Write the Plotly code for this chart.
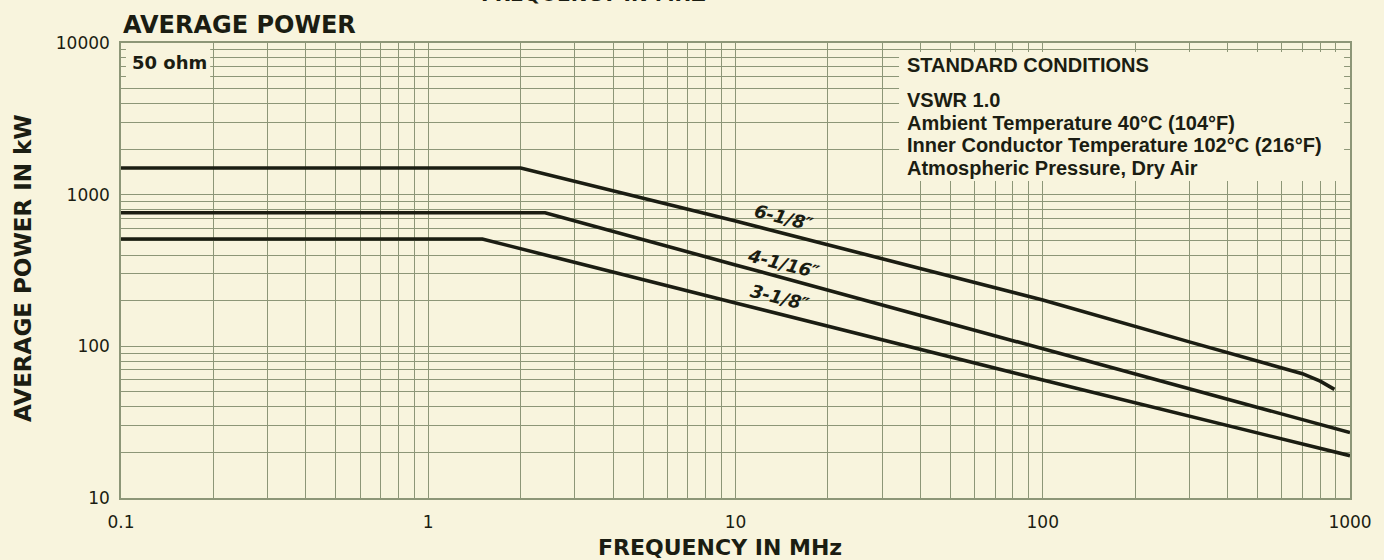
import plotly.graph_objects as go

# ---- data ----
freq_618 = [0.1, 2.0, 10, 100, 300, 700, 800, 890]
power_618 = [1500, 1500, 670, 202, 107, 66, 59, 52]

freq_4116 = [0.1, 2.4, 10, 100, 1000]
power_4116 = [760, 760, 344, 96, 27]

freq_318 = [0.1, 1.5, 10, 100, 1000]
power_318 = [510, 510, 193, 60, 19]

x_ticks = [0.1, 1, 10, 100, 1000]
x_tick_text = ['0.1', '1', '10', '100', '1000']
y_ticks = [10, 100, 1000, 10000]
y_tick_text = ['10', '100', '1000', '10000']

series_names = ['6-1/8″', '4-1/16″', '3-1/8″']
conditions = ['VSWR 1.0',
              'Ambient Temperature 40°C (104°F)',
              'Inner Conductor Temperature 102°C (216°F)',
              'Atmospheric Pressure, Dry Air']

# ---- styling ----
BG = '#f8f4dd'
GRID = '#8d9677'
INK = '#1b1d12'
W, H = 1384, 560
L, R, T, B = 121, 23, 43, 62
PW, PH = W - L - R, H - T - B


def px_x(px):
    return (px - L) / PW


def px_y(py):
    return (H - B - py) / PH


fig = go.Figure()
for fx, fy, nm in [(freq_618, power_618, series_names[0]),
                   (freq_4116, power_4116, series_names[1]),
                   (freq_318, power_318, series_names[2])]:
    fig.add_trace(go.Scatter(x=fx, y=fy, mode='lines', name=nm,
                             line=dict(color=INK, width=3.6),
                             showlegend=False))

axis_common = dict(
    type='log', showgrid=True, gridcolor=GRID, gridwidth=1,
    showline=True, linecolor=GRID, linewidth=1.5, mirror=True,
    ticks='', tickmode='array', zeroline=False,
    tickfont=dict(family='DejaVu Sans', size=17, color=INK),
    minor=dict(dtick='D1', showgrid=True, gridcolor=GRID, gridwidth=1, ticks=''),
)

fig.update_xaxes(range=[-1, 3], tickvals=x_ticks, ticktext=x_tick_text,
                 ticklabelstandoff=8, **axis_common)
fig.update_yaxes(range=[1, 4], tickvals=y_ticks, ticktext=y_tick_text,
                 ticklabelstandoff=6, **axis_common)

shapes = [
    # STANDARD CONDITIONS box (covers grid)
    dict(type='rect', xref='paper', yref='paper',
         x0=px_x(906), x1=px_x(1355), y0=px_y(181), y1=px_y(52),
         fillcolor=BG, line=dict(width=0), layer='above'),
    # 50 ohm box
    dict(type='rect', xref='paper', yref='paper',
         x0=px_x(126), x1=px_x(211), y0=px_y(77), y1=px_y(47),
         fillcolor=BG, line=dict(width=0), layer='above'),
]

ann = []
title_font = dict(family='DejaVu Sans', size=24, color=INK, weight='bold')
ann.append(dict(text='AVERAGE POWER', xref='paper', yref='paper',
                x=px_x(121), y=px_y(25), xanchor='left', yanchor='middle',
                showarrow=False, font=title_font))
ann.append(dict(text='AVERAGE POWER IN kW', xref='paper', yref='paper',
                x=px_x(22), y=px_y(268), xanchor='center', yanchor='middle',
                textangle=-90, showarrow=False,
                font=dict(family='DejaVu Sans', size=23, color=INK, weight='bold')))
ann.append(dict(text='FREQUENCY IN MHz', xref='paper', yref='paper',
                x=px_x(725), y=px_y(547), xanchor='center', yanchor='middle',
                showarrow=False,
                font=dict(family='DejaVu Sans', size=22, color=INK, weight='bold')))
# title at the very top of the page (cut off by the page edge, as in the source)
ann.append(dict(text='FREQUENCY IN MHZ', xref='paper', yref='paper',
                x=px_x(598), y=px_y(8), xanchor='center', yanchor='bottom',
                showarrow=False,
                font=dict(family='DejaVu Sans', size=20, color=INK, weight='bold')))
ann.append(dict(text='50 ohm', xref='paper', yref='paper',
                x=px_x(130), y=px_y(63), xanchor='left', yanchor='middle',
                showarrow=False,
                font=dict(family='DejaVu Sans', size=18, color=INK, weight='bold')))

box_font = dict(family='Liberation Sans', size=20, color=INK, weight='bold')
ann.append(dict(text='STANDARD CONDITIONS', xref='paper', yref='paper',
                x=px_x(912), y=px_y(65), xanchor='left', yanchor='middle',
                showarrow=False, font=box_font))
for i, line_txt in enumerate(conditions):
    ann.append(dict(text=line_txt, xref='paper', yref='paper',
                    x=px_x(912), y=px_y(100 + 22.7 * i), xanchor='left', yanchor='middle',
                    showarrow=False, font=box_font))

label_font = dict(family='DejaVu Sans', size=18, color=INK, weight='bold', style='italic')
for nm, (cx, cy) in zip(series_names, [(790, 217), (789, 263), (786, 297)]):
    ann.append(dict(text=nm, xref='paper', yref='paper',
                    x=px_x(cx), y=px_y(cy), xanchor='center', yanchor='middle',
                    textangle=14, showarrow=False, font=label_font))

fig.update_layout(
    width=W, height=H, autosize=False,
    margin=dict(l=L, r=R, t=T, b=B),
    paper_bgcolor=BG, plot_bgcolor=BG,
    shapes=shapes, annotations=ann,
    font=dict(family='DejaVu Sans', color=INK),
)

fig.write_html('out.html', config={'displayModeBar': False},
               post_script="document.body.style.margin='0';document.body.style.overflow='hidden';")
